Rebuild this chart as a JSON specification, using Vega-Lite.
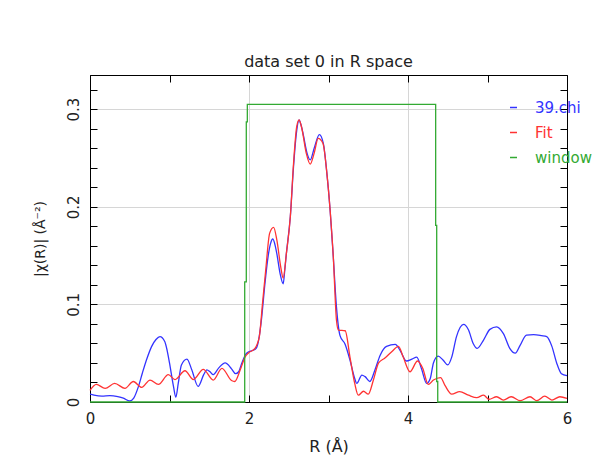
{
  "$schema": "https://vega.github.io/schema/vega-lite/v6.json",
  "width": 477,
  "height": 327,
  "autosize": {"type": "none"},
  "padding": {"left": 90, "top": 75, "right": 28, "bottom": 66},
  "background": "white",
  "title": {"text": "data set 0 in R space", "fontSize": 16, "fontWeight": "normal", "font": "DejaVu Sans", "color": "#222222", "offset": 5},
  "config": {
    "view": {"stroke": "black", "strokeWidth": 1},
    "font": "DejaVu Sans",
    "axis": {"domainColor": "black", "tickColor": "black", "labelColor": "#222222", "titleColor": "#222222", "labelFont": "DejaVu Sans", "titleFont": "DejaVu Sans", "titleFontWeight": "normal", "labelFlush": false, "labelOverlap": false}
  },
  "datasets": {
    "curves": [
      {"R": 0.00, "v": 0.008, "s": "39.chi"},
      {"R": 0.05, "v": 0.007, "s": "39.chi"},
      {"R": 0.15, "v": 0.006, "s": "39.chi"},
      {"R": 0.25, "v": 0.0065, "s": "39.chi"},
      {"R": 0.35, "v": 0.0055, "s": "39.chi"},
      {"R": 0.42, "v": 0.004, "s": "39.chi"},
      {"R": 0.50, "v": 0.001, "s": "39.chi"},
      {"R": 0.55, "v": 0.004, "s": "39.chi"},
      {"R": 0.61, "v": 0.016, "s": "39.chi"},
      {"R": 0.66, "v": 0.030, "s": "39.chi"},
      {"R": 0.71, "v": 0.043, "s": "39.chi"},
      {"R": 0.776, "v": 0.057, "s": "39.chi"},
      {"R": 0.83, "v": 0.064, "s": "39.chi"},
      {"R": 0.88, "v": 0.067, "s": "39.chi"},
      {"R": 0.94, "v": 0.062, "s": "39.chi"},
      {"R": 0.97, "v": 0.053, "s": "39.chi"},
      {"R": 1.00, "v": 0.040, "s": "39.chi"},
      {"R": 1.05, "v": 0.016, "s": "39.chi"},
      {"R": 1.08, "v": 0.005, "s": "39.chi"},
      {"R": 1.11, "v": 0.019, "s": "39.chi"},
      {"R": 1.15, "v": 0.038, "s": "39.chi"},
      {"R": 1.22, "v": 0.044, "s": "39.chi"},
      {"R": 1.28, "v": 0.033, "s": "39.chi"},
      {"R": 1.36, "v": 0.016, "s": "39.chi"},
      {"R": 1.43, "v": 0.028, "s": "39.chi"},
      {"R": 1.47, "v": 0.033, "s": "39.chi"},
      {"R": 1.51, "v": 0.031, "s": "39.chi"},
      {"R": 1.55, "v": 0.028, "s": "39.chi"},
      {"R": 1.62, "v": 0.035, "s": "39.chi"},
      {"R": 1.70, "v": 0.040, "s": "39.chi"},
      {"R": 1.78, "v": 0.034, "s": "39.chi"},
      {"R": 1.83, "v": 0.029, "s": "39.chi"},
      {"R": 1.87, "v": 0.031, "s": "39.chi"},
      {"R": 1.91, "v": 0.040, "s": "39.chi"},
      {"R": 1.97, "v": 0.050, "s": "39.chi"},
      {"R": 2.05, "v": 0.053, "s": "39.chi"},
      {"R": 2.09, "v": 0.055, "s": "39.chi"},
      {"R": 2.12, "v": 0.063, "s": "39.chi"},
      {"R": 2.16, "v": 0.087, "s": "39.chi"},
      {"R": 2.20, "v": 0.121, "s": "39.chi"},
      {"R": 2.24, "v": 0.149, "s": "39.chi"},
      {"R": 2.27, "v": 0.162, "s": "39.chi"},
      {"R": 2.30, "v": 0.167, "s": "39.chi"},
      {"R": 2.33, "v": 0.160, "s": "39.chi"},
      {"R": 2.35, "v": 0.152, "s": "39.chi"},
      {"R": 2.39, "v": 0.132, "s": "39.chi"},
      {"R": 2.43, "v": 0.121, "s": "39.chi"},
      {"R": 2.45, "v": 0.135, "s": "39.chi"},
      {"R": 2.47, "v": 0.152, "s": "39.chi"},
      {"R": 2.52, "v": 0.190, "s": "39.chi"},
      {"R": 2.56, "v": 0.241, "s": "39.chi"},
      {"R": 2.60, "v": 0.278, "s": "39.chi"},
      {"R": 2.63, "v": 0.289, "s": "39.chi"},
      {"R": 2.65, "v": 0.285, "s": "39.chi"},
      {"R": 2.68, "v": 0.275, "s": "39.chi"},
      {"R": 2.73, "v": 0.255, "s": "39.chi"},
      {"R": 2.77, "v": 0.248, "s": "39.chi"},
      {"R": 2.82, "v": 0.260, "s": "39.chi"},
      {"R": 2.885, "v": 0.274, "s": "39.chi"},
      {"R": 2.935, "v": 0.265, "s": "39.chi"},
      {"R": 2.98, "v": 0.234, "s": "39.chi"},
      {"R": 3.02, "v": 0.197, "s": "39.chi"},
      {"R": 3.06, "v": 0.149, "s": "39.chi"},
      {"R": 3.10, "v": 0.0975, "s": "39.chi"},
      {"R": 3.145, "v": 0.068, "s": "39.chi"},
      {"R": 3.21, "v": 0.059, "s": "39.chi"},
      {"R": 3.27, "v": 0.043, "s": "39.chi"},
      {"R": 3.33, "v": 0.024, "s": "39.chi"},
      {"R": 3.355, "v": 0.019, "s": "39.chi"},
      {"R": 3.42, "v": 0.0276, "s": "39.chi"},
      {"R": 3.46, "v": 0.026, "s": "39.chi"},
      {"R": 3.52, "v": 0.021, "s": "39.chi"},
      {"R": 3.585, "v": 0.033, "s": "39.chi"},
      {"R": 3.65, "v": 0.048, "s": "39.chi"},
      {"R": 3.73, "v": 0.057, "s": "39.chi"},
      {"R": 3.84, "v": 0.059, "s": "39.chi"},
      {"R": 3.90, "v": 0.053, "s": "39.chi"},
      {"R": 3.98, "v": 0.042, "s": "39.chi"},
      {"R": 4.05, "v": 0.044, "s": "39.chi"},
      {"R": 4.11, "v": 0.046, "s": "39.chi"},
      {"R": 4.17, "v": 0.034, "s": "39.chi"},
      {"R": 4.235, "v": 0.019, "s": "39.chi"},
      {"R": 4.28, "v": 0.024, "s": "39.chi"},
      {"R": 4.32, "v": 0.040, "s": "39.chi"},
      {"R": 4.38, "v": 0.047, "s": "39.chi"},
      {"R": 4.44, "v": 0.043, "s": "39.chi"},
      {"R": 4.50, "v": 0.038, "s": "39.chi"},
      {"R": 4.55, "v": 0.046, "s": "39.chi"},
      {"R": 4.61, "v": 0.067, "s": "39.chi"},
      {"R": 4.70, "v": 0.0795, "s": "39.chi"},
      {"R": 4.76, "v": 0.074, "s": "39.chi"},
      {"R": 4.82, "v": 0.060, "s": "39.chi"},
      {"R": 4.87, "v": 0.055, "s": "39.chi"},
      {"R": 4.95, "v": 0.0635, "s": "39.chi"},
      {"R": 5.03, "v": 0.0744, "s": "39.chi"},
      {"R": 5.115, "v": 0.077, "s": "39.chi"},
      {"R": 5.20, "v": 0.070, "s": "39.chi"},
      {"R": 5.28, "v": 0.055, "s": "39.chi"},
      {"R": 5.35, "v": 0.050, "s": "39.chi"},
      {"R": 5.41, "v": 0.058, "s": "39.chi"},
      {"R": 5.49, "v": 0.0686, "s": "39.chi"},
      {"R": 5.58, "v": 0.069, "s": "39.chi"},
      {"R": 5.68, "v": 0.068, "s": "39.chi"},
      {"R": 5.745, "v": 0.067, "s": "39.chi"},
      {"R": 5.81, "v": 0.057, "s": "39.chi"},
      {"R": 5.87, "v": 0.040, "s": "39.chi"},
      {"R": 5.93, "v": 0.029, "s": "39.chi"},
      {"R": 6.00, "v": 0.027, "s": "39.chi"},
      {"R": 0.00, "v": 0.012, "s": "Fit"},
      {"R": 0.08, "v": 0.018, "s": "Fit"},
      {"R": 0.19, "v": 0.014, "s": "Fit"},
      {"R": 0.31, "v": 0.019, "s": "Fit"},
      {"R": 0.44, "v": 0.014, "s": "Fit"},
      {"R": 0.545, "v": 0.021, "s": "Fit"},
      {"R": 0.65, "v": 0.015, "s": "Fit"},
      {"R": 0.755, "v": 0.0225, "s": "Fit"},
      {"R": 0.86, "v": 0.018, "s": "Fit"},
      {"R": 0.985, "v": 0.028, "s": "Fit"},
      {"R": 1.07, "v": 0.023, "s": "Fit"},
      {"R": 1.195, "v": 0.032, "s": "Fit"},
      {"R": 1.30, "v": 0.023, "s": "Fit"},
      {"R": 1.425, "v": 0.0335, "s": "Fit"},
      {"R": 1.55, "v": 0.0225, "s": "Fit"},
      {"R": 1.66, "v": 0.0345, "s": "Fit"},
      {"R": 1.78, "v": 0.022, "s": "Fit"},
      {"R": 1.82, "v": 0.021, "s": "Fit"},
      {"R": 1.89, "v": 0.033, "s": "Fit"},
      {"R": 1.95, "v": 0.046, "s": "Fit"},
      {"R": 1.99, "v": 0.050, "s": "Fit"},
      {"R": 2.075, "v": 0.055, "s": "Fit"},
      {"R": 2.13, "v": 0.067, "s": "Fit"},
      {"R": 2.17, "v": 0.101, "s": "Fit"},
      {"R": 2.21, "v": 0.135, "s": "Fit"},
      {"R": 2.26, "v": 0.173, "s": "Fit"},
      {"R": 2.31, "v": 0.179, "s": "Fit"},
      {"R": 2.35, "v": 0.166, "s": "Fit"},
      {"R": 2.40, "v": 0.138, "s": "Fit"},
      {"R": 2.43, "v": 0.127, "s": "Fit"},
      {"R": 2.47, "v": 0.152, "s": "Fit"},
      {"R": 2.52, "v": 0.190, "s": "Fit"},
      {"R": 2.56, "v": 0.244, "s": "Fit"},
      {"R": 2.60, "v": 0.282, "s": "Fit"},
      {"R": 2.63, "v": 0.289, "s": "Fit"},
      {"R": 2.66, "v": 0.282, "s": "Fit"},
      {"R": 2.72, "v": 0.255, "s": "Fit"},
      {"R": 2.77, "v": 0.2436, "s": "Fit"},
      {"R": 2.82, "v": 0.255, "s": "Fit"},
      {"R": 2.87, "v": 0.270, "s": "Fit"},
      {"R": 2.93, "v": 0.265, "s": "Fit"},
      {"R": 2.98, "v": 0.234, "s": "Fit"},
      {"R": 3.02, "v": 0.197, "s": "Fit"},
      {"R": 3.06, "v": 0.149, "s": "Fit"},
      {"R": 3.10, "v": 0.084, "s": "Fit"},
      {"R": 3.125, "v": 0.0737, "s": "Fit"},
      {"R": 3.21, "v": 0.073, "s": "Fit"},
      {"R": 3.27, "v": 0.046, "s": "Fit"},
      {"R": 3.33, "v": 0.019, "s": "Fit"},
      {"R": 3.375, "v": 0.007, "s": "Fit"},
      {"R": 3.44, "v": 0.011, "s": "Fit"},
      {"R": 3.50, "v": 0.008, "s": "Fit"},
      {"R": 3.565, "v": 0.0225, "s": "Fit"},
      {"R": 3.63, "v": 0.040, "s": "Fit"},
      {"R": 3.71, "v": 0.045, "s": "Fit"},
      {"R": 3.795, "v": 0.0515, "s": "Fit"},
      {"R": 3.88, "v": 0.057, "s": "Fit"},
      {"R": 3.94, "v": 0.046, "s": "Fit"},
      {"R": 4.025, "v": 0.031, "s": "Fit"},
      {"R": 4.12, "v": 0.042, "s": "Fit"},
      {"R": 4.185, "v": 0.0345, "s": "Fit"},
      {"R": 4.255, "v": 0.018, "s": "Fit"},
      {"R": 4.32, "v": 0.0225, "s": "Fit"},
      {"R": 4.41, "v": 0.025, "s": "Fit"},
      {"R": 4.465, "v": 0.017, "s": "Fit"},
      {"R": 4.55, "v": 0.008, "s": "Fit"},
      {"R": 4.65, "v": 0.0106, "s": "Fit"},
      {"R": 4.76, "v": 0.007, "s": "Fit"},
      {"R": 4.865, "v": 0.0044, "s": "Fit"},
      {"R": 4.95, "v": 0.007, "s": "Fit"},
      {"R": 5.02, "v": 0.0028, "s": "Fit"},
      {"R": 5.115, "v": 0.0054, "s": "Fit"},
      {"R": 5.20, "v": 0.002, "s": "Fit"},
      {"R": 5.30, "v": 0.0054, "s": "Fit"},
      {"R": 5.41, "v": 0.0013, "s": "Fit"},
      {"R": 5.535, "v": 0.0054, "s": "Fit"},
      {"R": 5.62, "v": 0.0013, "s": "Fit"},
      {"R": 5.72, "v": 0.006, "s": "Fit"},
      {"R": 5.81, "v": 0.002, "s": "Fit"},
      {"R": 5.91, "v": 0.0054, "s": "Fit"},
      {"R": 6.00, "v": 0.0038, "s": "Fit"}
    ],
    "window": [
      {"i": 1, "R": 0.0, "v": 0.0, "s": "window"},
      {"i": 2, "R": 1.946, "v": 0.0, "s": "window"},
      {"i": 3, "R": 1.946, "v": 0.123, "s": "window"},
      {"i": 4, "R": 1.966, "v": 0.123, "s": "window"},
      {"i": 5, "R": 1.966, "v": 0.287, "s": "window"},
      {"i": 6, "R": 1.979, "v": 0.287, "s": "window"},
      {"i": 7, "R": 1.979, "v": 0.305, "s": "window"},
      {"i": 8, "R": 4.348, "v": 0.305, "s": "window"},
      {"i": 9, "R": 4.348, "v": 0.181, "s": "window"},
      {"i": 10, "R": 4.361, "v": 0.181, "s": "window"},
      {"i": 11, "R": 4.361, "v": 0.021, "s": "window"},
      {"i": 12, "R": 4.374, "v": 0.021, "s": "window"},
      {"i": 13, "R": 4.374, "v": 0.0, "s": "window"},
      {"i": 14, "R": 6.0, "v": 0.0, "s": "window"}
    ]
  },
  "layer": [
    {
      "data": {"name": "curves"},
      "mark": {"type": "line", "interpolate": "monotone", "strokeWidth": 1.3},
      "encoding": {
        "x": {"field": "R", "type": "quantitative", "scale": {"domain": [0, 6], "nice": false},
          "axis": {"orient": "bottom", "values": [0, 1, 2, 3, 4, 5, 6], "labelExpr": "datum.value % 2 == 0 ? datum.label : ''",
            "grid": true, "gridColor": "#d6d6d6", "gridOpacity": {"condition": {"test": "datum.value % 2 == 0", "value": 1}, "value": 0},
            "tickSize": -7, "labelPadding": 16, "labelFontSize": 15, "title": "R (Å)", "titleFontSize": 16, "titlePadding": 12}},
        "y": {"field": "v", "type": "quantitative", "scale": {"domain": [0, 0.335], "nice": false},
          "axis": {"orient": "left", "values": [0, 0.02, 0.04, 0.06, 0.08, 0.1, 0.12, 0.14, 0.16, 0.18, 0.2, 0.22, 0.24, 0.26, 0.28, 0.3, 0.32],
            "format": "~g", "labelExpr": "abs(datum.value*10 - round(datum.value*10)) < 0.001 ? datum.label : ''",
            "labelAngle": 270, "labelAlign": "center", "labelBaseline": "bottom",
            "grid": true, "gridColor": "#d6d6d6", "gridOpacity": {"condition": {"test": "abs(datum.value*10 - round(datum.value*10)) < 0.001", "value": 1}, "value": 0},
            "tickSize": -7, "labelPadding": 16, "labelFontSize": 15, "title": "|χ(R)| (Å⁻²)", "titleFontSize": 14, "titlePadding": 19}},
        "color": {"field": "s", "type": "nominal",
          "scale": {"domain": ["39.chi", "Fit", "window"], "range": ["#3333ff", "#ff3333", "#33aa33"]},
          "legend": {"orient": "none", "legendX": 416, "legendY": 25, "title": null, "symbolType": "stroke", "symbolSize": 49, "symbolStrokeWidth": 1.5,
            "labelFontSize": 15, "labelFont": "DejaVu Sans", "labelOffset": 14, "rowPadding": 9, "padding": 0,
            "encode": {"labels": {"update": {"fill": {"scale": "color", "field": "value"}}}}}}
      }
    },
    {
      "data": {"name": "window"},
      "mark": {"type": "line", "strokeWidth": 1.3},
      "encoding": {
        "x": {"field": "R", "type": "quantitative", "scale": {"domain": [0, 6], "nice": false},
          "axis": {"orient": "top", "values": [0, 1, 2, 3, 4, 5, 6], "labels": false, "grid": false, "tickSize": -7, "title": null}},
        "y": {"field": "v", "type": "quantitative", "scale": {"domain": [0, 0.335], "nice": false},
          "axis": {"orient": "right", "values": [0, 0.02, 0.04, 0.06, 0.08, 0.1, 0.12, 0.14, 0.16, 0.18, 0.2, 0.22, 0.24, 0.26, 0.28, 0.3, 0.32], "labels": false, "grid": false, "tickSize": -7, "title": null}},
        "order": {"field": "i", "type": "quantitative"},
        "color": {"field": "s", "type": "nominal", "scale": {"domain": ["39.chi", "Fit", "window"], "range": ["#3333ff", "#ff3333", "#33aa33"]}}
      }
    }
  ],
  "resolve": {"axis": {"x": "independent", "y": "independent"}}
}
